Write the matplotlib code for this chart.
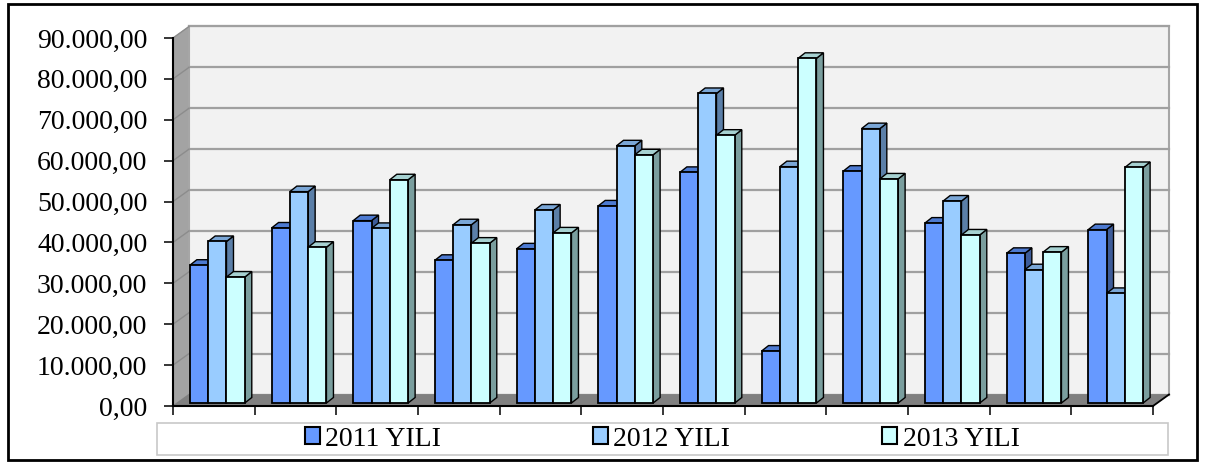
import matplotlib
matplotlib.use("Agg")
import matplotlib.pyplot as plt
from matplotlib.patches import Polygon, Rectangle
import numpy as np

# ---------------- data ----------------
categories = list(range(1, 13))
series_names = ["2011 YILI", "2012 YILI", "2013 YILI"]
values_2011 = [33700, 42800, 44600, 34900, 37700, 48200, 56400, 12700, 56700, 44000, 36600, 42400]
values_2012 = [39500, 51700, 42700, 43600, 47200, 62900, 75700, 57800, 67100, 49400, 32600, 26800]
values_2013 = [30800, 38100, 54600, 39100, 41600, 60700, 65500, 84300, 54800, 41100, 36900, 57600]
ytick_values = [0, 10000, 20000, 30000, 40000, 50000, 60000, 70000, 80000, 90000]
ytick_labels = ["0,00", "10.000,00", "20.000,00", "30.000,00", "40.000,00",
                "50.000,00", "60.000,00", "70.000,00", "80.000,00", "90.000,00"]

front_colors = ["#6699ff", "#99ccff", "#ccffff"]
top_colors = ["#4d7ad1", "#7aa6d6", "#a6d1d1"]
side_colors = ["#3d5c99", "#5b7fa8", "#7a9e9e"]

W, H = 1206, 462
fig = plt.figure(figsize=(W / 100, H / 100), dpi=100)
fig.patch.set_facecolor("white")

# axes in pixel coordinates (front plane)
ax_l, ax_r, ax_t, ax_b = 173, 1153, 38, 406
ax = fig.add_axes([ax_l / W, 1 - ax_b / H, (ax_r - ax_l) / W, (ax_b - ax_t) / H])
ncat = len(categories)
ymax = ytick_values[-1]
ax.set_xlim(0, ncat)
ax.set_ylim(0, ymax)
ax.patch.set_visible(False)

px_x = ncat / (ax_r - ax_l)
px_y = ymax / (ax_b - ax_t)

# wall depth
dx, dy = 16 * px_x, 11.5 * px_y

# left wall
ax.add_patch(Polygon([(0, 0), (dx, dy), (dx, ymax + dy), (0, ymax)], closed=True,
                     facecolor="#a3a3a3", edgecolor="#a3a3a3", lw=0.5, clip_on=False, zorder=1))
# back wall
ax.add_patch(Rectangle((dx, dy), ncat, ymax, facecolor="#f2f2f2", edgecolor="#a6a6a6",
                       lw=1.5, clip_on=False, zorder=1))
# gridlines
for v in ytick_values:
    ax.plot([dx, ncat + dx], [v + dy, v + dy], color="#a0a0a0", lw=1.6, clip_on=False, zorder=2)
    ax.plot([0, dx], [v, v + dy], color="#8c8c8c", lw=1.0, clip_on=False, zorder=2)
# floor
ax.add_patch(Polygon([(0, 0), (ncat, 0), (ncat + dx, dy), (dx, dy)], closed=True,
                     facecolor="#808080", edgecolor="#808080", lw=0.5, clip_on=False, zorder=3))
ax.plot([ncat, ncat + dx], [0, dy], color="black", lw=1.3, clip_on=False, zorder=3)

# bars
bw = 18.3 * px_x
bsx, bsy = 3.5 * px_x, 3 * px_y      # bar placement depth
sdx, sdy = 7 * px_x, 5.5 * px_y      # bar own depth
series = [values_2011, values_2012, values_2013]
x = np.arange(ncat)
z = 4
for i in range(ncat):
    for j, vals in enumerate(series):
        left = x[i] + 0.5 - 1.5 * bw + j * bw + bsx
        ax.bar(left, vals[i], width=bw, bottom=bsy, align="edge",
               color=front_colors[j], edgecolor="black", lw=1.3, zorder=z + 0.2, clip_on=False)
        top = bsy + vals[i]
        r = left + bw
        ax.add_patch(Polygon([(r, bsy), (r + sdx, bsy + sdy), (r + sdx, top + sdy), (r, top)],
                             closed=True, facecolor=side_colors[j], edgecolor="black",
                             lw=1.0, zorder=z, clip_on=False))
        ax.add_patch(Polygon([(left, top), (left + sdx, top + sdy), (r + sdx, top + sdy), (r, top)],
                             closed=True, facecolor=top_colors[j], edgecolor="black",
                             lw=1.0, zorder=z, clip_on=False))
        z += 1

# spines / ticks
for s in ["top", "right"]:
    ax.spines[s].set_visible(False)
for s in ["left", "bottom"]:
    ax.spines[s].set_linewidth(1.5)
    ax.spines[s].set_zorder(200)
ax.set_yticks(ytick_values)
ax.set_yticklabels(ytick_labels, fontfamily="Liberation Serif", fontsize=20)
ax.set_xticks(np.arange(ncat + 1))
ax.set_xticklabels([])
ax.tick_params(axis="y", direction="out", length=6.5, width=1.1, pad=12, color="black")
ax.tick_params(axis="x", direction="out", length=6.5, width=1.1, color="black")

# legend
handles = [Rectangle((0, 0), 1, 1, facecolor=c, edgecolor="black", lw=1.5) for c in front_colors]
leg = fig.legend(handles, series_names, loc="center", bbox_to_anchor=(662 / W, 1 - 439 / H),
                 ncol=3, frameon=False, prop={"family": "Liberation Serif", "size": 20},
                 handlelength=0.55, handleheight=0.55, handletextpad=0.2, columnspacing=5.45,
                 borderpad=0)
fig.patches.append(Rectangle((157 / W, 1 - 455 / H), (1168 - 157) / W, (455 - 423) / H,
                             transform=fig.transFigure, facecolor="none", edgecolor="#c8c8c8",
                             lw=1.2))
# outer border
fig.patches.append(Rectangle((7.5 / W, 1 - 460 / H), (1196.5 - 7.5) / W, (460 - 3.5) / H,
                             transform=fig.transFigure, facecolor="none", edgecolor="black",
                             lw=2.0))

fig.savefig("out.png", dpi=100)
